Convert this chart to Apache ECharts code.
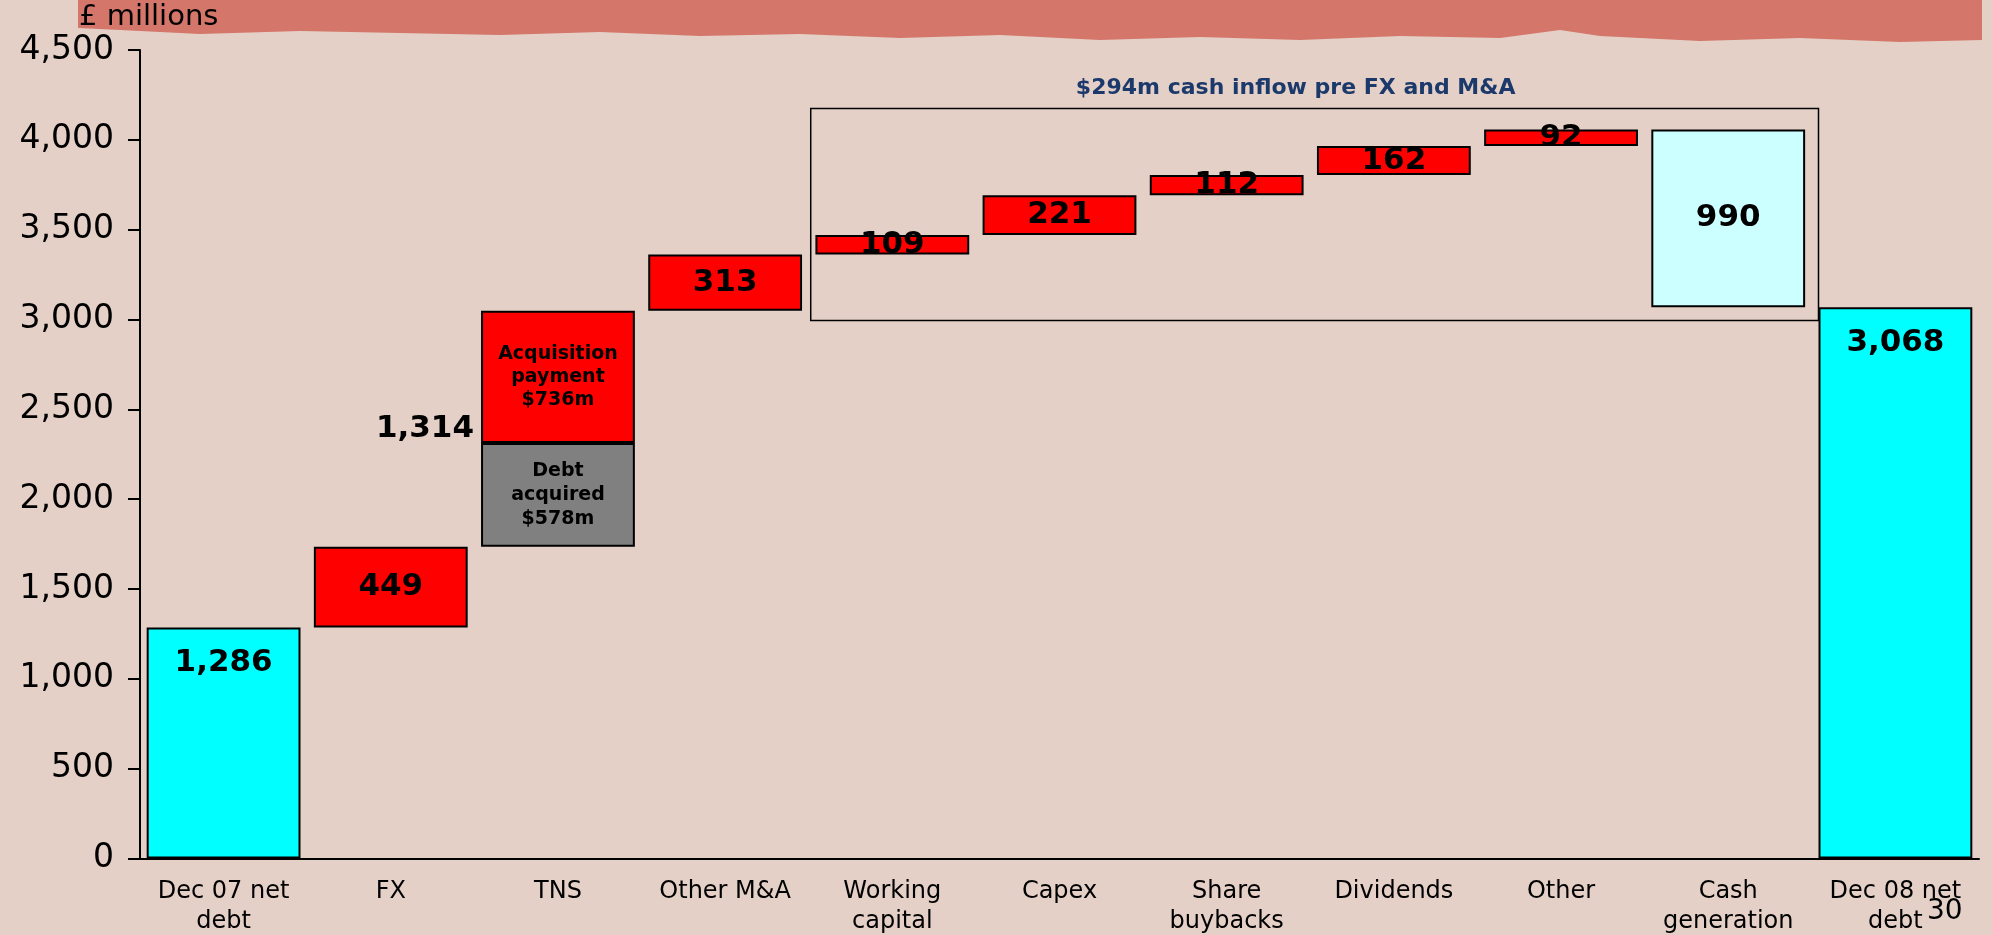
<!DOCTYPE html>
<html style="height: 100%">
<head>
    <meta charset="utf-8">
    <script src="https://cdn.jsdelivr.net/npm/echarts@6/dist/echarts.min.js"></script>
</head>
<body style="height: 100%; margin: 0; background: #e4d0c7">
<div id="container" style="width: 1992px; height: 935px"></div>
<script type="text/javascript">
// categories along the bottom
var categories = ['Dec 07 net\ndebt', 'FX', 'TNS', 'Other M&A', 'Working\ncapital', 'Capex',
    'Share\nbuybacks', 'Dividends', 'Other', 'Cash\ngeneration', 'Dec 08 net\ndebt'];
// where each floating block starts (invisible part of the stack)
var bases = [0, 1286, 1735, 3049, 3362, 3471, 3692, 3804, 3966, 3068, 0];
// visible block (for TNS: the debt acquired part)
var steps = [1286, 449, 578, 313, 109, 221, 112, 162, 92, 990, 3068];
// TNS acquisition payment on top of the debt acquired
var acquisition = [null, null, 736, null, null, null, null, null, null, null, null];
var kinds = ['total', 'up', 'debt', 'up', 'up', 'up', 'up', 'up', 'up', 'gen', 'total'];
var tnsTotal = 1314;
// y axis: min, max, step
var yRange = [0, 4500, 500];
// value range of the "cash inflow" frame
var boxValues = [2995, 4175];

var colors = {total: '#00ffff', up: '#ff0000', debt: '#808080', gen: '#ccffff'};
var FONT = 'DejaVu Sans';

function fmt(v) {
    return v.toLocaleString('en-US');
}

var stepData = steps.map(function (v, i) {
    var item = {value: v, itemStyle: {color: colors[kinds[i]]}};
    if (kinds[i] == 'total') {
        item.label = {position: 'insideTop', distance: 20};
    }
    if (kinds[i] == 'debt') {
        item.label = {formatter: 'Debt\nacquired\n$578m', fontSize: 19, lineHeight: 24};
    }
    return item;
});

var dom = document.getElementById('container');
var myChart = echarts.init(dom);
var option = {
    animation: false,
    backgroundColor: '#e4d0c7',
    textStyle: {fontFamily: FONT},
    grid: {left: 140, right: 13, top: 50, bottom: 76.5, containLabel: false, outerBoundsMode: 'none'},
    xAxis: {
        type: 'category',
        data: categories,
        axisLine: {lineStyle: {color: '#000', width: 2}},
        axisTick: {show: false},
        axisLabel: {color: '#000', fontSize: 24, lineHeight: 30, margin: 18, fontFamily: FONT, interval: 0}
    },
    yAxis: {
        type: 'value',
        min: yRange[0],
        max: yRange[1],
        interval: yRange[2],
        splitLine: {show: false},
        axisLine: {show: true, lineStyle: {color: '#000', width: 2}},
        axisTick: {show: true, length: 12, lineStyle: {color: '#000', width: 2}},
        axisLabel: {color: '#000', fontSize: 33, margin: 26, fontFamily: FONT, formatter: function (v) { return fmt(v); }}
    },
    series: [{
        name: 'base',
        type: 'bar',
        stack: 'w',
        barWidth: '92%',
        silent: true,
        itemStyle: {color: 'transparent', borderWidth: 0},
        data: bases
    }, {
        name: 'step',
        type: 'bar',
        stack: 'w',
        barWidth: '92%',
        itemStyle: {borderColor: '#000', borderWidth: 2},
        label: {
            show: true,
            position: 'inside',
            color: '#000',
            fontWeight: 'bold',
            fontSize: 31,
            fontFamily: FONT,
            formatter: function (p) { return fmt(p.value); }
        },
        data: stepData
    }, {
        name: 'acquisition',
        type: 'bar',
        stack: 'w',
        barWidth: '92%',
        itemStyle: {color: '#ff0000', borderColor: '#000', borderWidth: 2},
        label: {
            show: true,
            position: 'inside',
            color: '#000',
            fontWeight: 'bold',
            fontSize: 19,
            lineHeight: 23,
            fontFamily: FONT,
            formatter: 'Acquisition\npayment\n$736m'
        },
        data: acquisition
    }, {
        name: 'tnsTotal',
        type: 'scatter',
        symbolSize: 0,
        silent: true,
        itemStyle: {opacity: 1},
        label: {
            show: true,
            position: 'left',
            distance: 84,
            color: '#000',
            fontWeight: 'bold',
            fontSize: 31,
            fontFamily: FONT,
            formatter: function () { return fmt(tnsTotal); }
        },
        data: [[2, bases[2] + tnsTotal / 2]]
    }]
};
myChart.setOption(option);

// frame round the cash inflow items, plus page decorations
var x0 = myChart.convertToPixel({xAxisIndex: 0}, 0);
var band = myChart.convertToPixel({xAxisIndex: 0}, 1) - x0;
var boxLeft = myChart.convertToPixel({xAxisIndex: 0}, 4) - band / 2 + 2;
var boxRight = myChart.convertToPixel({xAxisIndex: 0}, 10) - band * 0.46;
var boxTop = myChart.convertToPixel({yAxisIndex: 0}, boxValues[1]);
var boxBottom = myChart.convertToPixel({yAxisIndex: 0}, boxValues[0]);

myChart.setOption({
    graphic: [{
        type: 'polygon',
        z: -1,
        shape: {points: [[78, 0], [1982, 0], [1982, 40], [1900, 42], [1800, 38], [1700, 41], [1600, 36],
            [1560, 30], [1500, 38], [1400, 36], [1300, 40], [1200, 37], [1100, 40], [1000, 35],
            [900, 38], [800, 34], [700, 36], [600, 32], [500, 35], [400, 33], [300, 31],
            [200, 34], [120, 30], [78, 28]]},
        style: {fill: '#d4766a'}
    }, {
        type: 'text',
        left: 79,
        top: 3,
        style: {text: '£ millions', fontSize: 29, fontFamily: FONT, fill: '#000'}
    }, {
        type: 'rect',
        shape: {x: boxLeft, y: boxTop, width: boxRight - boxLeft, height: boxBottom - boxTop},
        style: {fill: 'none', stroke: '#000', lineWidth: 1.5}
    }, {
        type: 'text',
        x: (boxLeft + boxRight) / 2 - 19,
        y: boxTop - 20,
        style: {
            text: '$294m cash inflow pre FX and M&A', fontSize: 22, fontWeight: 'bold',
            fontFamily: FONT, fill: '#1b3a6b', align: 'center', verticalAlign: 'middle'
        }
    }, {
        type: 'text',
        x: 1927,
        y: 912,
        style: {text: '30', fontSize: 28, fontFamily: FONT, fill: '#000', verticalAlign: 'middle'}
    }]
});
</script>
</body>
</html>
